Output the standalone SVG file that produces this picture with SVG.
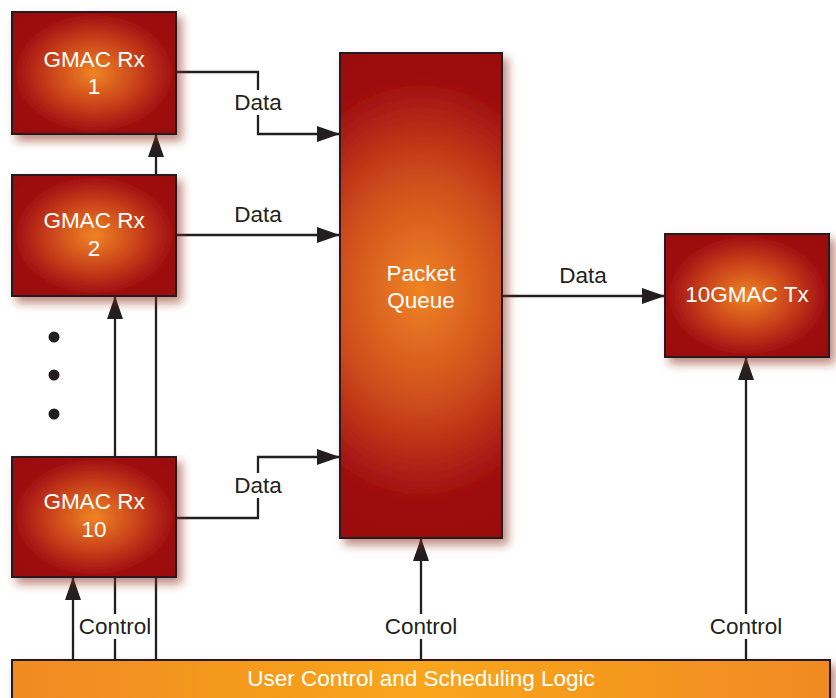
<svg xmlns="http://www.w3.org/2000/svg" width="836" height="698" viewBox="0 0 836 698">
<defs>
<radialGradient id="gBox" cx="0.5" cy="0.5" r="0.62">
<stop offset="0" stop-color="#ef8424"/>
<stop offset="0.45" stop-color="#c8401a"/>
<stop offset="0.8" stop-color="#9e0c10"/>
<stop offset="1" stop-color="#9b0a0f"/>
</radialGradient>
<radialGradient id="gPQ" gradientUnits="userSpaceOnUse" cx="421" cy="290" r="250" gradientTransform="translate(421 290) scale(0.75 1) translate(-421 -290)">
<stop offset="0" stop-color="#ef8424"/>
<stop offset="0.45" stop-color="#cf4d1c"/>
<stop offset="0.85" stop-color="#9e0c10"/>
<stop offset="1" stop-color="#9b0a0f"/>
</radialGradient>
<linearGradient id="gBar" x1="0" y1="0" x2="1" y2="0">
<stop offset="0" stop-color="#f08a22"/>
<stop offset="0.5" stop-color="#f9a61c"/>
<stop offset="1" stop-color="#f08a22"/>
</linearGradient>
<filter id="sh" x="-20%" y="-20%" width="150%" height="150%">
<feDropShadow dx="5" dy="6" stdDeviation="5" flood-color="#8a2a18" flood-opacity="0.55"/>
</filter>
<marker id="arr" markerUnits="userSpaceOnUse" markerWidth="24" markerHeight="18" refX="23" refY="8" orient="auto">
<path d="M0,0 L23,8 L0,16 Z" fill="#231f20"/>
</marker>
</defs>
<style>
.ln{fill:none;stroke:#231f20;stroke-width:2.3}
.box{stroke:#231f20;stroke-width:2;filter:url(#sh)}
.wt{font-family:"Liberation Sans",Arial,sans-serif;font-size:22.5px;fill:#ffffff;text-anchor:middle}
.lb{font-family:"Liberation Sans",Arial,sans-serif;font-size:22.5px;fill:#231f20;text-anchor:middle}
.bg{fill:#ffffff}
</style>
<g id="connectors">
<path class="ln" d="M176,72 H258 V134 H340" marker-end="url(#arr)"/>
<path class="ln" d="M176,235 H340" marker-end="url(#arr)"/>
<path class="ln" d="M176,518 H258 V457 H340" marker-end="url(#arr)"/>
<path class="ln" d="M502,296 H665" marker-end="url(#arr)"/>
<path class="ln" d="M73,660 V577" marker-end="url(#arr)"/>
<path class="ln" d="M115,660 V296" marker-end="url(#arr)"/>
<path class="ln" d="M156,660 V134" marker-end="url(#arr)"/>
<path class="ln" d="M421,660 V538" marker-end="url(#arr)"/>
<path class="ln" d="M746,660 V357" marker-end="url(#arr)"/>
<rect class="bg" x="231" y="90" width="54" height="25"/>
<text class="lb" x="258" y="110">Data</text>
<text class="lb" x="258" y="222">Data</text>
<rect class="bg" x="231" y="473" width="54" height="25"/>
<text class="lb" x="258" y="493">Data</text>
<text class="lb" x="583" y="283">Data</text>
<rect class="bg" x="76" y="614" width="78" height="25"/>
<text class="lb" x="115" y="634">Control</text>
<rect class="bg" x="382" y="614" width="78" height="25"/>
<text class="lb" x="421" y="634">Control</text>
<rect class="bg" x="707" y="614" width="78" height="25"/>
<text class="lb" x="746" y="634">Control</text>
</g>
<g id="rx1">
<rect class="box" x="12" y="12" width="164" height="122" fill="url(#gBox)"/>
<text class="wt" x="94" y="67">GMAC Rx</text>
<text class="wt" x="94" y="94">1</text>
</g>
<g id="rx2">
<rect class="box" x="12" y="175" width="164" height="121" fill="url(#gBox)"/>
<text class="wt" x="94" y="228">GMAC Rx</text>
<text class="wt" x="94" y="256">2</text>
</g>
<g id="dots" fill="#231f20">
<circle cx="54" cy="337" r="5.5"/>
<circle cx="54" cy="375" r="5.5"/>
<circle cx="54" cy="414" r="5.5"/>
</g>
<g id="rx10">
<rect class="box" x="12" y="457" width="164" height="120" fill="url(#gBox)"/>
<text class="wt" x="94" y="509">GMAC Rx</text>
<text class="wt" x="94" y="537">10</text>
</g>
<g id="pq">
<rect class="box" x="340" y="53" width="162" height="485" fill="url(#gPQ)"/>
<text class="wt" x="421" y="281">Packet</text>
<text class="wt" x="421" y="308">Queue</text>
</g>
<g id="tx">
<rect class="box" x="665" y="234" width="164" height="123" fill="url(#gBox)"/>
<text class="wt" x="747" y="302">10GMAC Tx</text>
</g>
<g id="bar">
<rect x="12" y="660" width="818" height="50" fill="url(#gBar)" stroke="#231f20" stroke-width="2" filter="url(#sh)"/>
<text class="wt" x="421" y="686">User Control and Scheduling Logic</text>
</g>
</svg>
